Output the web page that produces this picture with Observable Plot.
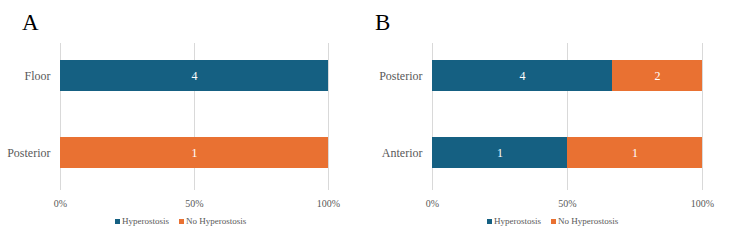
<!DOCTYPE html>
<html>
<head>
<meta charset="utf-8">
<script src="https://cdn.jsdelivr.net/npm/d3@7"></script>
<script src="https://cdn.jsdelivr.net/npm/@observablehq/plot@0.6"></script>
<style>
  html, body { margin: 0; padding: 0; background: #fff; }
  #wrap { position: relative; width: 750px; height: 244px; overflow: hidden; font-family: "Liberation Serif", "Times New Roman", serif; }
  .panel { position: absolute; top: 0; width: 375px; height: 244px; }
  .panel svg { position: absolute; left: 0; top: 0; overflow: visible; }
  .panel svg text { font-family: "Liberation Serif", "Times New Roman", serif; }
  .letter { position: absolute; top: 11px; font-size: 23px; color: #000; line-height: 1; }
  .legend { position: absolute; top: 216px; height: 11px; line-height: 11px; display: flex; align-items: center; gap: 10px; font-size: 9px; color: #595959; white-space: nowrap; }
  .legend span { display: inline-flex; align-items: center; }
  .legend i { display: inline-block; width: 5px; height: 5px; margin-right: 2px; }
</style>
</head>
<body>
<div id="wrap"></div>
<script>
// Series and colours shared by both panels
const series = ["Hyperostosis", "No Hyperostosis"];
const seriesColors = ["#156082", "#E97132"];

// Panel A: counts by location
const catsA = ["Floor", "Posterior"];
const hyperA = [4, 0];
const noHyperA = [0, 1];

// Panel B: counts by location
const catsB = ["Posterior", "Anterior"];
const hyperB = [4, 1];
const noHyperB = [2, 1];

const xTicks = [0, 0.5, 1];

function rows(cats, hyper, noHyper) {
  const out = [];
  cats.forEach((c, i) => out.push({cat: c, group: series[0], n: hyper[i]}));
  cats.forEach((c, i) => out.push({cat: c, group: series[1], n: noHyper[i]}));
  return out.filter(d => d.n > 0);
}

function panel(letter, left, letterX, legendX, cats, hyper, noHyper, mL, mR) {
  const data = rows(cats, hyper, noHyper);
  const div = document.createElement("div");
  div.className = "panel";
  div.style.left = left + "px";

  const chart = Plot.plot({
    width: 375,
    height: 244,
    marginTop: 43,
    marginBottom: 54,
    marginLeft: mL,
    marginRight: mR,
    style: {fontFamily: "'Liberation Serif', serif", fontSize: "12px", color: "#595959", background: "transparent", overflow: "visible"},
    x: {domain: [0, 1]},
    y: {domain: cats, range: [60, 168], paddingInner: 0.6, paddingOuter: 0},
    color: {domain: series, range: seriesColors},
    marks: [
      Plot.ruleX(xTicks, {stroke: "#d9d9d9", strokeWidth: 1}),
      Plot.barX(data, Plot.stackX({offset: "normalize", x: "n", y: "cat", fill: "group", z: "group"})),
      Plot.text(data, Plot.stackX({offset: "normalize", x: "n", y: "cat", z: "group", text: d => String(d.n), fill: "white", fontSize: 12})),
      Plot.axisX(xTicks, {tickSize: 0, tickPadding: 9, tickFormat: d3.format(".0%"), fontSize: 10, label: null, anchor: "bottom", fill: "#595959"}),
      Plot.axisY({tickSize: 0, tickPadding: 10, label: null, fontSize: 12, fill: "#595959"})
    ]
  });
  div.appendChild(chart);

  const l = document.createElement("div");
  l.className = "letter";
  l.style.left = letterX + "px";
  l.textContent = letter;
  div.appendChild(l);

  const leg = document.createElement("div");
  leg.className = "legend";
  leg.style.left = legendX + "px";
  series.forEach((s, i) => {
    const sp = document.createElement("span");
    const sw = document.createElement("i");
    sw.style.background = seriesColors[i];
    sp.appendChild(sw);
    sp.appendChild(document.createTextNode(s));
    leg.appendChild(sp);
  });
  div.appendChild(leg);

  document.getElementById("wrap").appendChild(div);
}

panel("A", 0, 22, 115, catsA, hyperA, noHyperA, 60, 47);
panel("B", 375, 0, 112, catsB, hyperB, noHyperB, 57, 48);
</script>
</body>
</html>
